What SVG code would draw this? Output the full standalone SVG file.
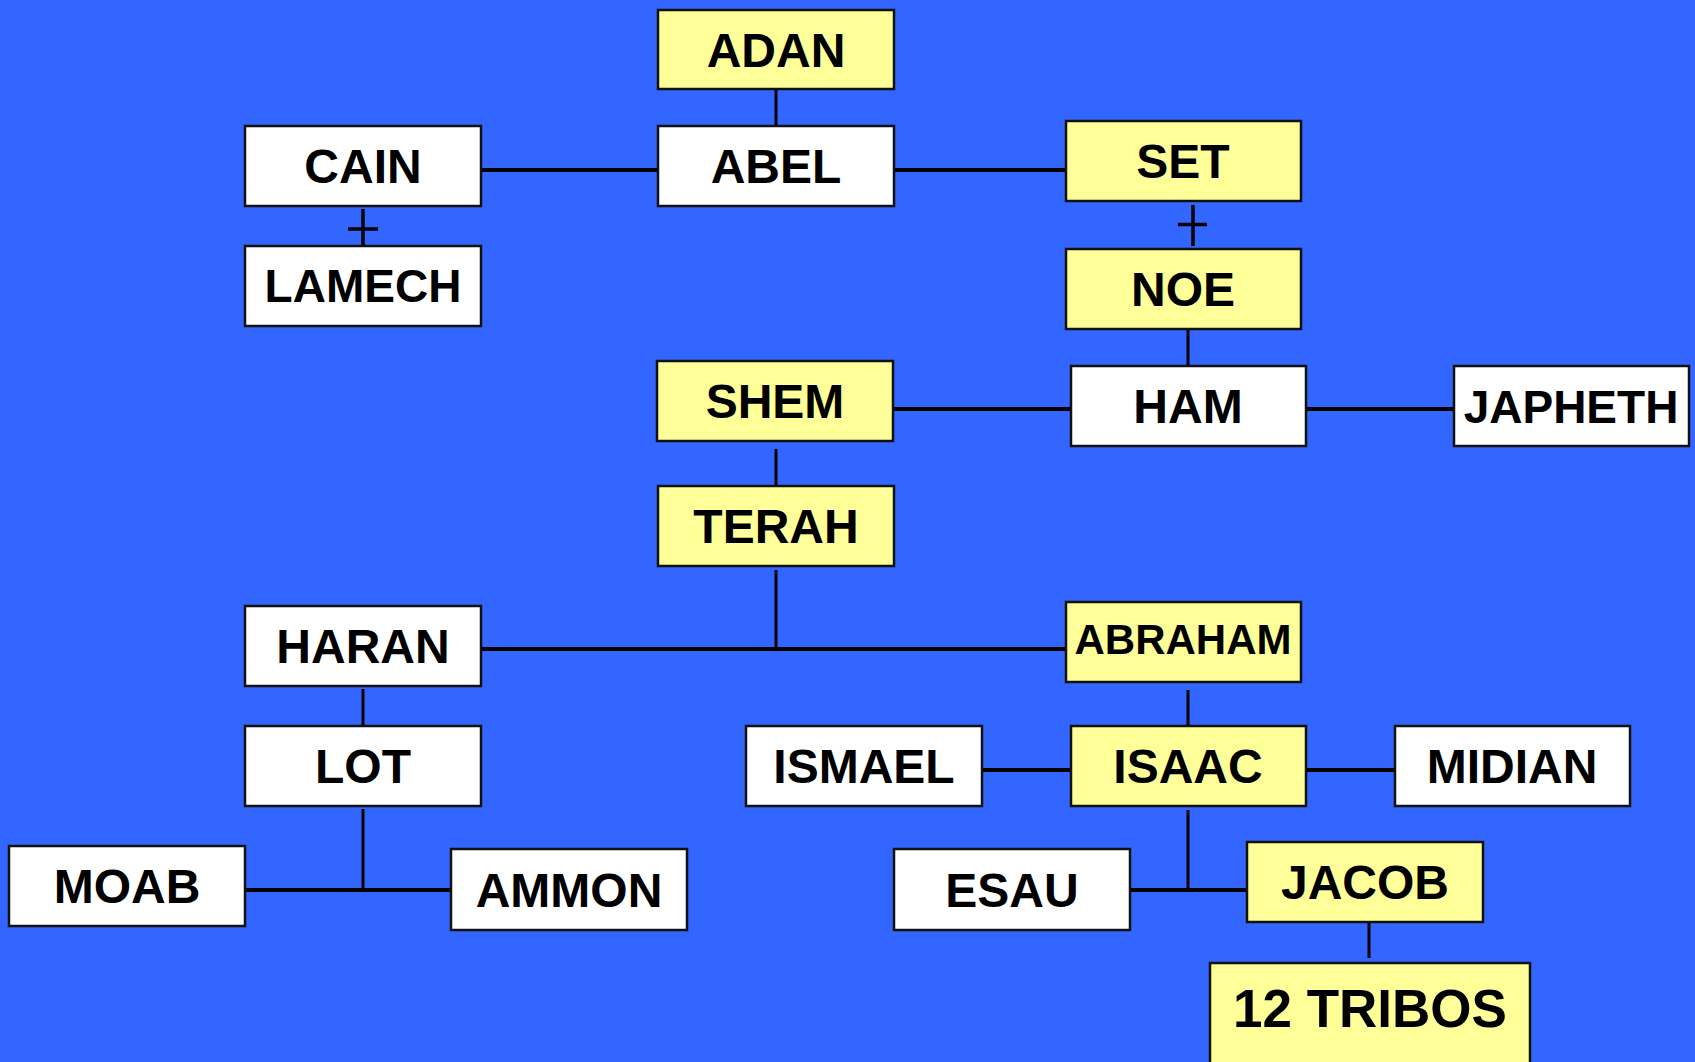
<svg xmlns="http://www.w3.org/2000/svg" width="1695" height="1062" viewBox="0 0 1695 1062">
<style>
.bg{fill:#3366FF}
.box rect{stroke:#111;stroke-width:2.5}
.y rect{fill:#FFFF99}
.w rect{fill:#FFFFFF}
.box text{font-family:"Liberation Sans",Arial,Helvetica,sans-serif;font-weight:bold;font-size:48px;fill:#000;text-anchor:middle}
.conn line{stroke:#000;stroke-linecap:butt}
.h{stroke-width:4}
.v{stroke-width:3}
.x{stroke-width:3.5}
</style>
<rect class="bg" x="0" y="0" width="1695" height="1062"/>
<g id="connectors" class="conn">
<line class="v" x1="776" y1="89" x2="776" y2="129"/>
<line class="h" x1="481" y1="170" x2="658" y2="170"/>
<line class="h" x1="894" y1="170" x2="1070" y2="170"/>
<line class="x" x1="363" y1="209" x2="363" y2="250"/>
<line class="x" x1="348" y1="229" x2="378" y2="229"/>
<line class="x" x1="1193" y1="205" x2="1193" y2="246"/>
<line class="x" x1="1178" y1="224.5" x2="1207" y2="224.5"/>
<line class="v" x1="1188" y1="329" x2="1188" y2="369"/>
<line class="h" x1="893" y1="409" x2="1071" y2="409"/>
<line class="h" x1="1306" y1="409" x2="1454" y2="409"/>
<line class="v" x1="776" y1="449" x2="776" y2="489"/>
<line class="v" x1="776" y1="570" x2="776" y2="650"/>
<line class="h" x1="476" y1="649" x2="1066" y2="649"/>
<line class="v" x1="363" y1="689" x2="363" y2="729"/>
<line class="v" x1="1188" y1="690" x2="1188" y2="729"/>
<line class="h" x1="982" y1="770" x2="1071" y2="770"/>
<line class="h" x1="1306" y1="770" x2="1395" y2="770"/>
<line class="v" x1="363" y1="809" x2="363" y2="890"/>
<line class="h" x1="245" y1="890" x2="451" y2="890"/>
<line class="v" x1="1188" y1="810" x2="1188" y2="890"/>
<line class="h" x1="1130" y1="890" x2="1247" y2="890"/>
<line class="v" x1="1369" y1="918" x2="1369" y2="958"/>
</g>
<g id="adan" class="box y"><rect x="658" y="10" width="236" height="79"/><text x="776" y="67">ADAN</text></g>
<g id="cain" class="box w"><rect x="245" y="126" width="236" height="80"/><text x="363" y="183">CAIN</text></g>
<g id="abel" class="box w"><rect x="658" y="126" width="236" height="80"/><text x="776" y="183">ABEL</text></g>
<g id="set" class="box y"><rect x="1066" y="121" width="235" height="80"/><text x="1183" y="178">SET</text></g>
<g id="lamech" class="box w"><rect x="245" y="246" width="236" height="80"/><text x="363" y="302" style="font-size:46px">LAMECH</text></g>
<g id="noe" class="box y"><rect x="1066" y="249" width="235" height="80"/><text x="1183" y="306">NOE</text></g>
<g id="shem" class="box y"><rect x="657" y="361" width="236" height="80"/><text x="775" y="418">SHEM</text></g>
<g id="ham" class="box w"><rect x="1071" y="366" width="235" height="80"/><text x="1188" y="423">HAM</text></g>
<g id="japheth" class="box w"><rect x="1454" y="366" width="235" height="80"/><text x="1571" y="423" style="font-size:46px">JAPHETH</text></g>
<g id="terah" class="box y"><rect x="658" y="486" width="236" height="80"/><text x="776" y="543">TERAH</text></g>
<g id="haran" class="box w"><rect x="245" y="606" width="236" height="80"/><text x="363" y="663">HARAN</text></g>
<g id="abraham" class="box y"><rect x="1066" y="602" width="235" height="80"/><text x="1183" y="654" style="font-size:42px">ABRAHAM</text></g>
<g id="lot" class="box w"><rect x="245" y="726" width="236" height="80"/><text x="363" y="783">LOT</text></g>
<g id="ismael" class="box w"><rect x="746" y="726" width="236" height="80"/><text x="864" y="783">ISMAEL</text></g>
<g id="isaac" class="box y"><rect x="1071" y="726" width="235" height="80"/><text x="1188" y="783">ISAAC</text></g>
<g id="midian" class="box w"><rect x="1395" y="726" width="235" height="80"/><text x="1512" y="783">MIDIAN</text></g>
<g id="moab" class="box w"><rect x="9" y="846" width="236" height="80"/><text x="127" y="903">MOAB</text></g>
<g id="ammon" class="box w"><rect x="451" y="849" width="236" height="81"/><text x="569" y="907">AMMON</text></g>
<g id="esau" class="box w"><rect x="894" y="849" width="236" height="81"/><text x="1012" y="907">ESAU</text></g>
<g id="jacob" class="box y"><rect x="1247" y="842" width="236" height="80"/><text x="1365" y="899">JACOB</text></g>
<g id="tribos" class="box y"><rect x="1210" y="963" width="320" height="110"/><text x="1370" y="1027" style="font-size:53px">12 TRIBOS</text></g>
</svg>
